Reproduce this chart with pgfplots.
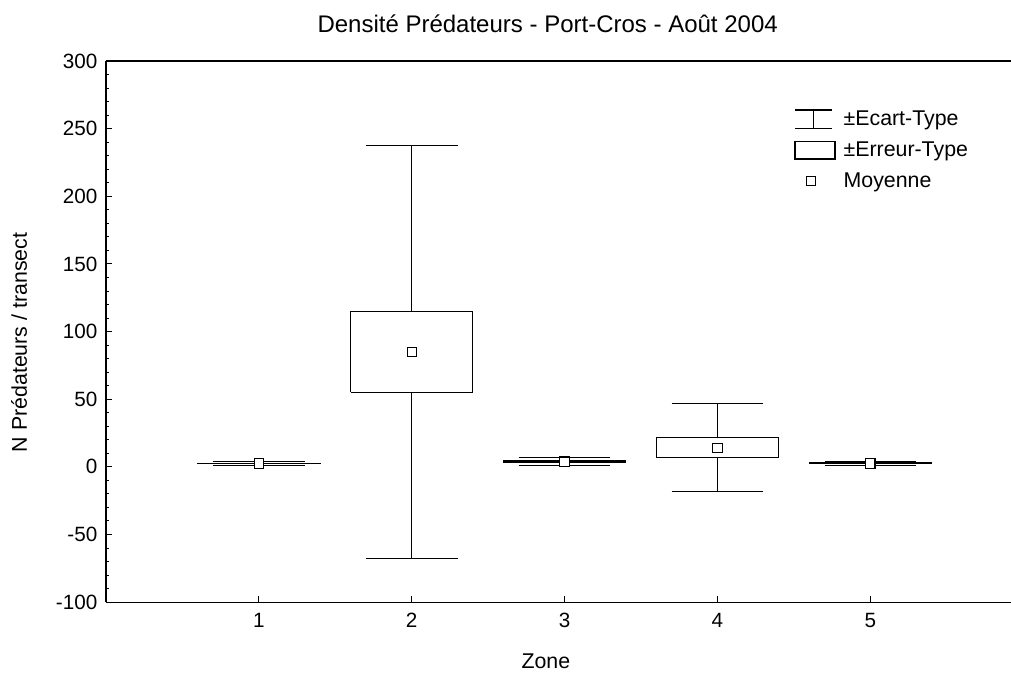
\documentclass[border=0pt]{standalone}
\usepackage{fontspec}
\setmainfont{Liberation Sans}
\usepackage{pgfplots}
\pgfplotsset{compat=1.18}

\begin{document}
\begin{tikzpicture}
\begin{axis}[
  scale only axis,
  width=678.75pt, height=405.75pt,
  xmin=0, xmax=5.92,
  ymin=-100, ymax=300,
  axis lines=left,
  axis line style={-, line width=0.8pt},
  xtick={1,2,3,4,5},
  ytick={-100,-50,0,50,100,150,200,250,300},
  minor y tick num=4,
  tick align=inside,
  tick style={black, line width=0.6pt},
  major tick length=4.5pt, minor tick length=2.5pt,
  font=\fontsize{15.5}{18}\selectfont,
  tick label style={font=\fontsize{15.5}{18}\selectfont},
  /pgf/number format/assume math mode=true,
  yticklabel style={xshift=-3pt},
  xticklabel style={yshift=-5pt},
  clip=false,
  unbounded coords=jump,
  legend cell align=left,
  legend style={at={(rel axis cs:0.756,0.918)}, anchor=north west, draw=none, fill=none,
    font=\fontsize{16}{19}\selectfont, row sep=6.75pt,
    /tikz/every odd column/.append style={column sep=4pt}},
]
% ecart-type: whiskers (cap, stem, cap) per zone
\addplot[forget plot, black, line width=0.9pt] coordinates {
  (0.7,3.7) (1.3,3.7) (1,nan) (1,3.7) (1,1.1) (1,nan) (0.7,1.1) (1.3,1.1) (1,nan)
  (1.7,237.3) (2.3,237.3) (2,nan) (2,237.3) (2,-67.7) (2,nan) (1.7,-67.7) (2.3,-67.7) (2,nan)
  (2.7,6.9) (3.3,6.9) (3,nan) (3,6.9) (3,0.7) (3,nan) (2.7,0.7) (3.3,0.7) (3,nan)
  (3.7,46.6) (4.3,46.6) (4,nan) (4,46.6) (4,-18.4) (4,nan) (3.7,-18.4) (4.3,-18.4) (4,nan)
  (4.7,4.2) (5.3,4.2) (5,nan) (5,4.2) (5,0.8) (5,nan) (4.7,0.8) (5.3,0.8)
};
% erreur-type: boxes
\addplot[forget plot, black, line width=0.9pt, fill=white] coordinates {(0.6,2.2) (1.4,2.2) (1.4,2.6) (0.6,2.6) (0.6,2.2)};
\addplot[forget plot, black, line width=0.9pt, fill=white] coordinates {(1.6,55.0) (2.4,55.0) (2.4,114.6) (1.6,114.6) (1.6,55.0)};
\addplot[forget plot, black, line width=0.9pt, fill=white] coordinates {(2.6,3.3) (3.4,3.3) (3.4,4.3) (2.6,4.3) (2.6,3.3)};
\addplot[forget plot, black, line width=0.9pt, fill=white] coordinates {(3.6,6.7) (4.4,6.7) (4.4,21.5) (3.6,21.5) (3.6,6.7)};
\addplot[forget plot, black, line width=0.9pt, fill=white] coordinates {(4.6,2.2) (5.4,2.2) (5.4,2.8) (4.6,2.8) (4.6,2.2)};
% moyenne
\addplot[forget plot, only marks, mark=square*, mark size=3.5pt, black, line width=0.8pt,
  mark options={fill=white}]
  coordinates {(1,2.4) (2,84.8) (3,3.8) (4,14.1) (5,2.5)};

\addlegendimage{legend image code/.code={
  \draw[black, line width=0.9pt] (0pt,7pt) -- (28pt,7pt);
  \draw[black, line width=0.9pt] (14pt,7pt) -- (14pt,-7pt);
  \draw[black, line width=0.9pt] (0pt,-7pt) -- (28pt,-7pt);}}
\addlegendentry{±Ecart-Type}
\addlegendimage{legend image code/.code={
  \draw[black, line width=0.9pt] (0pt,-6.5pt) rectangle (30pt,6.5pt);}}
\addlegendentry{±Erreur-Type}
\addlegendimage{legend image code/.code={
  \draw[black, line width=0.8pt, fill=white] (8.5pt,-3.3pt) rectangle (15.1pt,3.3pt);}}
\addlegendentry{Moyenne}

\draw[black, line width=0.8pt] (rel axis cs:0,1) -- (rel axis cs:1,1);
\node[font=\fontsize{18}{21}\selectfont, anchor=base] at (rel axis cs:0.488,1.052) {Densité Prédateurs - Port-Cros - Août 2004};
\node[font=\fontsize{16}{19}\selectfont, anchor=base] at (rel axis cs:0.486,-0.122) {Zone};
\node[font=\fontsize{16}{19}\selectfont, rotate=90, anchor=base] at (rel axis cs:-0.0873,0.48) {N Prédateurs / transect};
\coordinate (bl) at (rel axis cs:-0.1171,-0.1312);
\coordinate (tr) at (rel axis cs:1,1.1128);
\end{axis}
\pgfresetboundingbox
\useasboundingbox (bl) rectangle (tr);
\end{tikzpicture}
\end{document}
